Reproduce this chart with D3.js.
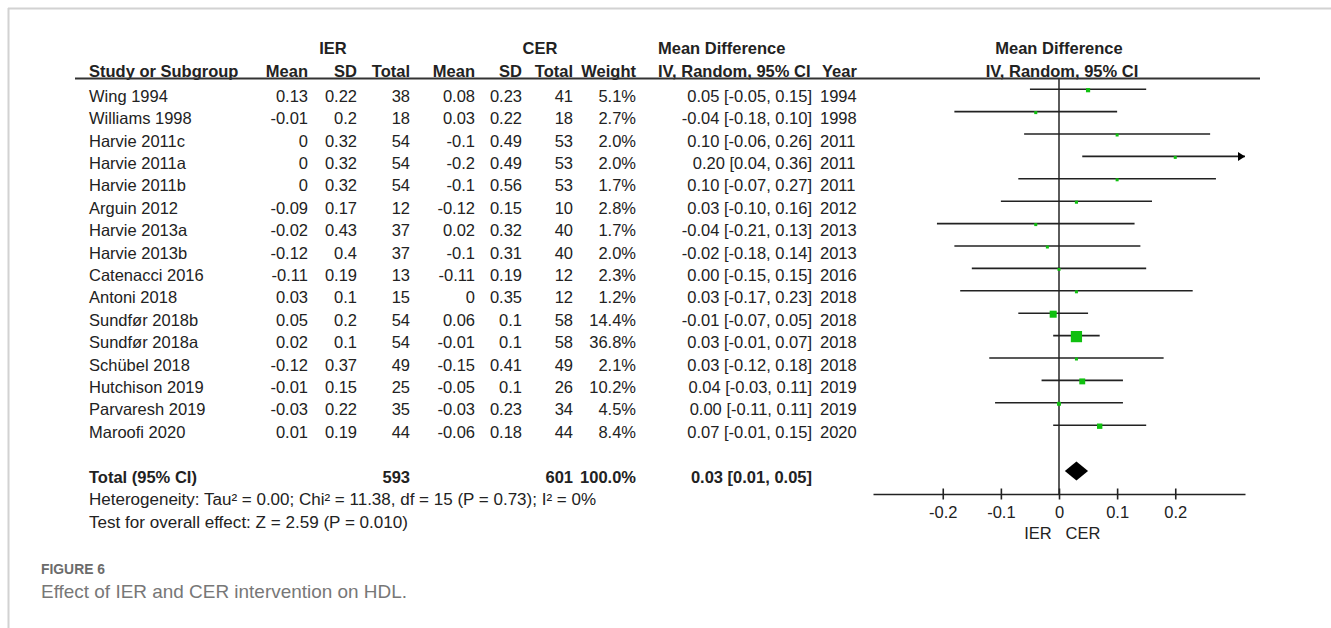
<!DOCTYPE html>
<html>
<head>
<meta charset="utf-8">
<script src="https://cdn.jsdelivr.net/npm/d3@7"></script>
<style>
  html, body { margin: 0; padding: 0; background: #fff; }
  svg { display: block; }
  text { font-family: "Liberation Sans", Arial, sans-serif; fill: #222; }
</style>
</head>
<body>
<svg id="chart" width="1331" height="628"></svg>
<script>
// Forest plot: HDL, intermittent (IER) vs continuous (CER) energy restriction
const studies = ["Wing 1994", "Williams 1998", "Harvie 2011c", "Harvie 2011a", "Harvie 2011b",
  "Arguin 2012", "Harvie 2013a", "Harvie 2013b", "Catenacci 2016", "Antoni 2018",
  "Sundfør 2018b", "Sundfør 2018a", "Schübel 2018", "Hutchison 2019", "Parvaresh 2019", "Maroofi 2020"];
const ierMean  = [0.13, -0.01, 0, 0, 0, -0.09, -0.02, -0.12, -0.11, 0.03, 0.05, 0.02, -0.12, -0.01, -0.03, 0.01];
const ierSD    = [0.22, 0.2, 0.32, 0.32, 0.32, 0.17, 0.43, 0.4, 0.19, 0.1, 0.2, 0.1, 0.37, 0.15, 0.22, 0.19];
const ierTotal = [38, 18, 54, 54, 54, 12, 37, 37, 13, 15, 54, 54, 49, 25, 35, 44];
const cerMean  = [0.08, 0.03, -0.1, -0.2, -0.1, -0.12, 0.02, -0.1, -0.11, 0, 0.06, -0.01, -0.15, -0.05, -0.03, -0.06];
const cerSD    = [0.23, 0.22, 0.49, 0.49, 0.56, 0.15, 0.32, 0.31, 0.19, 0.35, 0.1, 0.1, 0.41, 0.1, 0.23, 0.18];
const cerTotal = [41, 18, 53, 53, 53, 10, 40, 40, 12, 12, 58, 58, 49, 26, 34, 44];
const weights  = [5.1, 2.7, 2.0, 2.0, 1.7, 2.8, 1.7, 2.0, 2.3, 1.2, 14.4, 36.8, 2.1, 10.2, 4.5, 8.4];
const meanDiff = [0.05, -0.04, 0.10, 0.20, 0.10, 0.03, -0.04, -0.02, 0.00, 0.03, -0.01, 0.03, 0.03, 0.04, 0.00, 0.07];
const ciLow    = [-0.05, -0.18, -0.06, 0.04, -0.07, -0.10, -0.21, -0.18, -0.15, -0.17, -0.07, -0.01, -0.12, -0.03, -0.11, -0.01];
const ciHigh   = [0.15, 0.10, 0.26, 0.36, 0.27, 0.16, 0.13, 0.14, 0.15, 0.23, 0.05, 0.07, 0.18, 0.11, 0.11, 0.15];
const years    = [1994, 1998, 2011, 2011, 2011, 2012, 2013, 2013, 2016, 2018, 2018, 2018, 2018, 2019, 2019, 2020];

// Pooled estimate
const totalIER = 593, totalCER = 601, totalWeight = 100.0;
const pooled = { md: 0.03, lo: 0.01, hi: 0.05 };

const axisTicks = [-0.2, -0.1, 0, 0.1, 0.2];
const axisLabels = ["IER", "CER"];
const heterogeneity = "Heterogeneity: Tau² = 0.00; Chi² = 11.38, df = 15 (P = 0.73); I² = 0%";
const overallTest = "Test for overall effect: Z = 2.59 (P = 0.010)";
const figLabel = "FIGURE 6";
const figCaption = "Effect of IER and CER intervention on HDL.";

const svg = d3.select("#chart");
const green = "#10c010";
const ink = "#222";

// frame
svg.append("line").attr("x1", 8).attr("x2", 1331).attr("y1", 8.5).attr("y2", 8.5)
  .attr("stroke", "#d2d2d2").attr("stroke-width", 2);
svg.append("line").attr("x1", 8.5).attr("x2", 8.5).attr("y1", 8).attr("y2", 628)
  .attr("stroke", "#d2d2d2").attr("stroke-width", 2);

// scales
const x = d3.scaleLinear().domain([-0.32, 0.32]).range([873, 1245]);
const rowBase = d3.scaleLinear().domain([0, 1]).range([101.7, 124.1]); // text baseline per row
const markY = i => rowBase(i) - 12.5;

const fs = 16.5;
const cols = [
  { key: "mean1", x: 308 }, { key: "sd1", x: 357 }, { key: "tot1", x: 410 },
  { key: "mean2", x: 475 }, { key: "sd2", x: 522 }, { key: "tot2", x: 573 },
  { key: "w", x: 636 }, { key: "ci", x: 812 }
];

const g = svg.append("g").attr("font-size", fs);

function txt(xp, yp, s, anchor, bold) {
  return g.append("text").attr("x", xp).attr("y", yp).attr("text-anchor", anchor || "start")
    .attr("font-weight", bold ? "bold" : "normal").text(s);
}

// header
txt(333, 54, "IER", "middle", true);
txt(540, 54, "CER", "middle", true);
txt(658, 54, "Mean Difference", "start", true);
txt(1059, 54, "Mean Difference", "middle", true);
const hy = 76.5;
txt(89, hy, "Study or Subgroup", "start", true);
["Mean", "SD", "Total", "Mean", "SD", "Total", "Weight"].forEach((h, i) => txt(cols[i].x, hy, h, "end", true));
txt(658, hy, "IV, Random, 95% CI", "start", true);
txt(822, hy, "Year", "start", true);
txt(1062, hy, "IV, Random, 95% CI", "middle", true);
svg.append("line").attr("x1", 75).attr("x2", 1260).attr("y1", 78.5).attr("y2", 78.5)
  .attr("stroke", "#333").attr("stroke-width", 2);

// study rows
const fmtCI = (m, l, h) => `${m.toFixed(2)} [${l.toFixed(2)}, ${h.toFixed(2)}]`;
studies.forEach((s, i) => {
  const y = rowBase(i);
  txt(89, y, s);
  const vals = [String(ierMean[i]), String(ierSD[i]), String(ierTotal[i]),
    String(cerMean[i]), String(cerSD[i]), String(cerTotal[i]),
    weights[i].toFixed(1) + "%", fmtCI(meanDiff[i], ciLow[i], ciHigh[i])];
  vals.forEach((v, k) => txt(cols[k].x, y, v, "end"));
  txt(820, y, String(years[i]));
});

// total row
const ty = rowBase(17);
txt(89, ty, "Total (95% CI)", "start", true);
txt(cols[2].x, ty, String(totalIER), "end", true);
txt(cols[5].x, ty, String(totalCER), "end", true);
txt(cols[6].x, ty, totalWeight.toFixed(1) + "%", "end", true);
txt(cols[7].x, ty, fmtCI(pooled.md, pooled.lo, pooled.hi), "end", true);

txt(89, 505, heterogeneity).attr("font-size", 16).attr("textLength", 507).attr("lengthAdjust", "spacingAndGlyphs");
txt(89, 528, overallTest).attr("font-size", 16).attr("textLength", 319).attr("lengthAdjust", "spacingAndGlyphs");

// plot: zero line
const axisY = 494;
svg.append("line").attr("x1", x(0)).attr("x2", x(0)).attr("y1", 78).attr("y2", axisY)
  .attr("stroke", "#333").attr("stroke-width", 1.6);

// confidence intervals and squares
const plot = svg.append("g");
const [dMin, dMax] = x.domain();
studies.forEach((s, i) => {
  const y = markY(i);
  const lo = Math.max(ciLow[i], dMin), hi = Math.min(ciHigh[i], dMax);
  plot.append("line").attr("x1", x(lo)).attr("x2", x(hi)).attr("y1", y).attr("y2", y)
    .attr("stroke", "#222").attr("stroke-width", 1.6);
  if (ciHigh[i] > dMax) {
    const xe = x(dMax);
    plot.append("path").attr("d", `M${xe},${y} L${xe - 7},${y - 4.5} L${xe - 7},${y + 4.5} Z`).attr("fill", "#000");
  }
  if (ciLow[i] < dMin) {
    const xs = x(dMin);
    plot.append("path").attr("d", `M${xs},${y} L${xs + 7},${y - 4.5} L${xs + 7},${y + 4.5} Z`).attr("fill", "#000");
  }
  const side = Math.max(3, 1.85 * Math.sqrt(weights[i]));
  plot.append("rect").attr("x", x(meanDiff[i]) - side / 2).attr("y", y + 1 - side / 2)
    .attr("width", side).attr("height", side).attr("fill", green);
});

// pooled diamond
const dy = markY(17) + 1;
plot.append("path")
  .attr("d", `M${x(pooled.lo)},${dy} L${x(pooled.md)},${dy - 9.5} L${x(pooled.hi)},${dy} L${x(pooled.md)},${dy + 9.5} Z`)
  .attr("fill", "#000");

// x axis
const axisG = svg.append("g").attr("transform", `translate(0,${axisY})`)
  .call(d3.axisBottom(x).tickValues(axisTicks).tickSizeOuter(0).tickSizeInner(5)
    .tickFormat(d => String(d)));
axisG.select(".domain").attr("stroke", "#222").attr("stroke-width", 1.6);
axisG.selectAll(".tick line").attr("y1", -5.5).attr("y2", 5.5).attr("stroke", "#222").attr("stroke-width", 1.6);
axisG.selectAll(".tick text").attr("y", 24).attr("dy", null).attr("font-size", 16.5)
  .attr("font-family", "Liberation Sans, Arial, sans-serif").attr("fill", ink);

const lab = svg.append("g").attr("font-size", 16.5);
lab.append("text").attr("x", 1038).attr("y", 539).attr("text-anchor", "middle").attr("fill", "#333").text(axisLabels[0]);
lab.append("text").attr("x", 1083).attr("y", 539).attr("text-anchor", "middle").attr("fill", "#333").text(axisLabels[1]);

// caption
svg.append("text").attr("x", 41).attr("y", 574).attr("font-family", "Lato, 'Open Sans', sans-serif")
  .attr("font-size", 14).attr("font-weight", "bold").style("fill", "#6b6b6b")
  .attr("textLength", 64).attr("lengthAdjust", "spacingAndGlyphs").text(figLabel);
svg.append("text").attr("x", 41).attr("y", 598).attr("font-family", "Lato, 'Open Sans', sans-serif")
  .attr("font-size", 19).attr("font-weight", 300).style("fill", "#777")
  .attr("textLength", 366).attr("lengthAdjust", "spacingAndGlyphs").text(figCaption);
</script>
</body>
</html>
